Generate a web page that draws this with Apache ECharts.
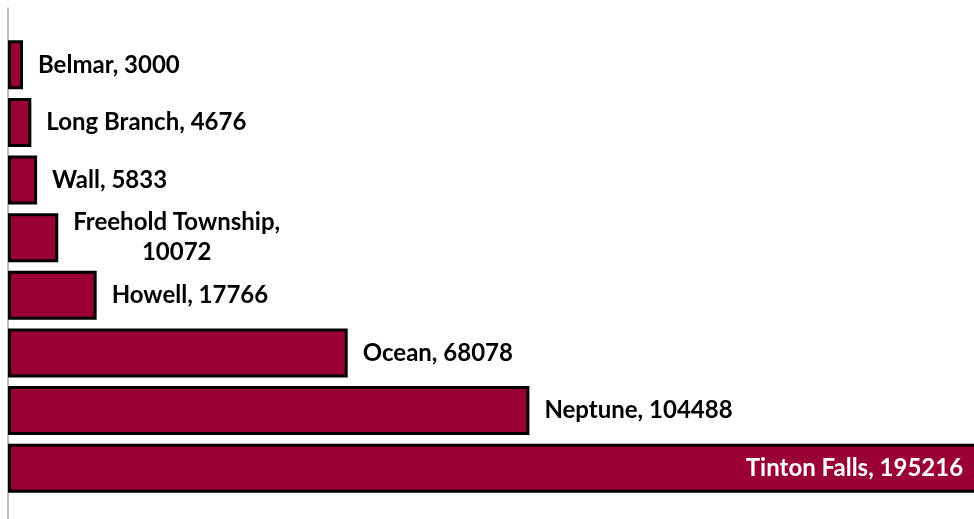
<!DOCTYPE html>
<html>
<head>
<meta charset="utf-8">
<script src="https://cdn.jsdelivr.net/npm/echarts@6/dist/echarts.min.js"></script>
<style>
  html, body { margin: 0; padding: 0; background: #fff; }
  #myChart { width: 974px; height: 519px; }
</style>
</head>
<body>
<div id="myChart"></div>
<script>
// towns, top to bottom
const towns = ["Belmar", "Long Branch", "Wall", "Freehold Township", "Howell", "Ocean", "Neptune", "Tinton Falls"];
const values = [3000, 4676, 5833, 10072, 17766, 68078, 104488, 195216];

const myChart = echarts.init(document.getElementById("myChart"));

const labelFont = { fontFamily: "Lato", fontWeight: "bold", fontSize: 24, color: "#000" };

const barData = towns.map(function (t, i) {
  const item = { value: values[i], name: t };
  if (t === "Tinton Falls") {
    // biggest bar: label sits inside, white
    item.label = { position: "insideRight", distance: 19, color: "#fff" };
  }
  if (t === "Freehold Township") {
    item.label = {
      formatter: "{c|Freehold Township,}\n{c|10072}",
      rich: { c: Object.assign({ align: "center", lineHeight: 30 }, labelFont) }
    };
  }
  return item;
});

myChart.setOption({
  animation: false,
  grid: [
    { left: 8, right: -32, top: 36, bottom: 22, outerBoundsMode: "none" },
    { left: 8, right: 0, top: 8, bottom: 0, outerBoundsMode: "none" } // only for the long axis line
  ],
  xAxis: [
    { type: "value", min: 0, max: 200000, show: false, gridIndex: 0 },
    { type: "value", show: false, gridIndex: 1 }
  ],
  yAxis: [
    {
      type: "category", data: towns, inverse: true, gridIndex: 0,
      axisLine: { show: false }, axisTick: { show: false }, axisLabel: { show: false }
    },
    {
      type: "value", gridIndex: 1, min: 0, max: 1,
      axisLine: { show: true, lineStyle: { color: "#a6a6a6", width: 1.5 } },
      axisTick: { show: false }, axisLabel: { show: false }, splitLine: { show: false }
    }
  ],
  series: [
    {
      type: "bar",
      xAxisIndex: 0,
      yAxisIndex: 0,
      data: barData,
      barCategoryGap: "15%",
      itemStyle: { color: "#990033", borderColor: "#000", borderWidth: 3 },
      label: Object.assign({
        show: true,
        position: "right",
        distance: 15,
        formatter: function (p) { return p.name + ", " + p.value; }
      }, labelFont)
    }
  ]
});
</script>
</body>
</html>
